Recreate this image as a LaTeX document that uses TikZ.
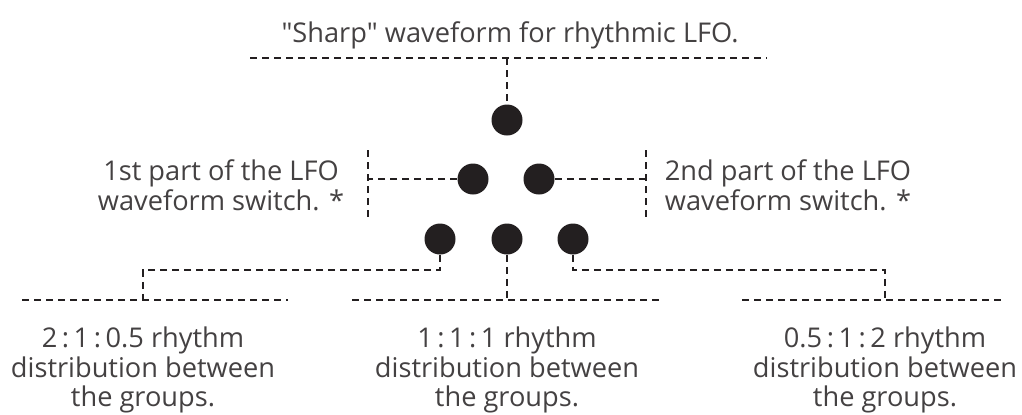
\documentclass[tikz,border=0pt]{standalone}
\usepackage{fontspec}
\setmainfont{Open Sans}
\usepackage{xcolor}
\usetikzlibrary{positioning, calc}
\definecolor{inkgray}{HTML}{231F20}
\tikzset{
  lfodot/.style={
    circle, fill=inkgray, draw=none, minimum size=15.5pt, inner sep=0pt
  },
  lfodash/.style={
    draw=inkgray, line width=0.75pt, dash pattern=on 3.5pt off 2.5pt
  },
  lfolabel/.style={
    font=\fontsize{13.6}{14.9}\selectfont, text=inkgray!85, align=center,
    inner sep=0pt
  },
}

\begin{document}
\begin{tikzpicture}[x=0.5pt, y=-0.5pt]
  \useasboundingbox (0,0) rectangle (1022,414);

  % ── Dots ──
  \node[lfodot] (dtop) at (507,120) {};
  \node[lfodot] (dmidl) at (473,179) {};
  \node[lfodot] (dmidr) at (539,179) {};
  \node[lfodot] (dlowl) at (440,239) {};
  \node[lfodot] (dlowm) at (507,239) {};
  \node[lfodot] (dlowr) at (573,239) {};

  % ── Top label ──
  \node[lfolabel] (sharp) at (510,35) {\textquotedbl Sharp\textquotedbl{} waveform for rhythmic LFO.};
  \coordinate (topl) at (250,58);
  \coordinate (topr) at (767,58);
  \coordinate (topm) at (507,58);
  \draw[lfodash] (topl) -- (topr);
  \draw[lfodash] (topm) -- (dtop);

  % ── Middle labels ──
  \node[lfolabel] (firstpart) at (221,185) {1st part of the LFO\\waveform switch. *};
  \node[lfolabel] (secondpart) at (788,185) {2nd part of the LFO\\waveform switch. *};
  \coordinate (midlt) at (368,150);
  \coordinate (midlb) at (368,220);
  \coordinate (midrt) at (646,150);
  \coordinate (midrb) at (646,220);
  \draw[lfodash] (midlt) -- (midlb);
  \draw[lfodash] (midrt) -- (midrb);
  \draw[lfodash] (dmidl) -- (dmidl -| midlt);
  \draw[lfodash] (dmidr) -- (dmidr -| midrt);

  % ── Bottom labels ──
  \node[lfolabel] (ratioa) at (143,370) {2\,:\,1\,:\,0.5 rhythm\\distribution between\\the groups.};
  \node[lfolabel] (ratiob) at (507,370) {1\,:\,1\,:\,1 rhythm\\distribution between\\the groups.};
  \node[lfolabel] (ratioc) at (885,370) {0.5\,:\,1\,:\,2 rhythm\\distribution between\\the groups.};

  \draw[lfodash] (22,300) -- (288,300);
  \draw[lfodash] (352,300) -- (662,300);
  \draw[lfodash] (742,300) -- (1005,300);

  \coordinate (bendl) at (143,270);
  \coordinate (bendr) at (885,270);
  \draw[lfodash] (dlowl) |- (bendl) -- (143,300);
  \draw[lfodash] (dlowm) -- (507,300);
  \draw[lfodash] (dlowr) |- (bendr) -- (885,300);
\end{tikzpicture}
\end{document}
